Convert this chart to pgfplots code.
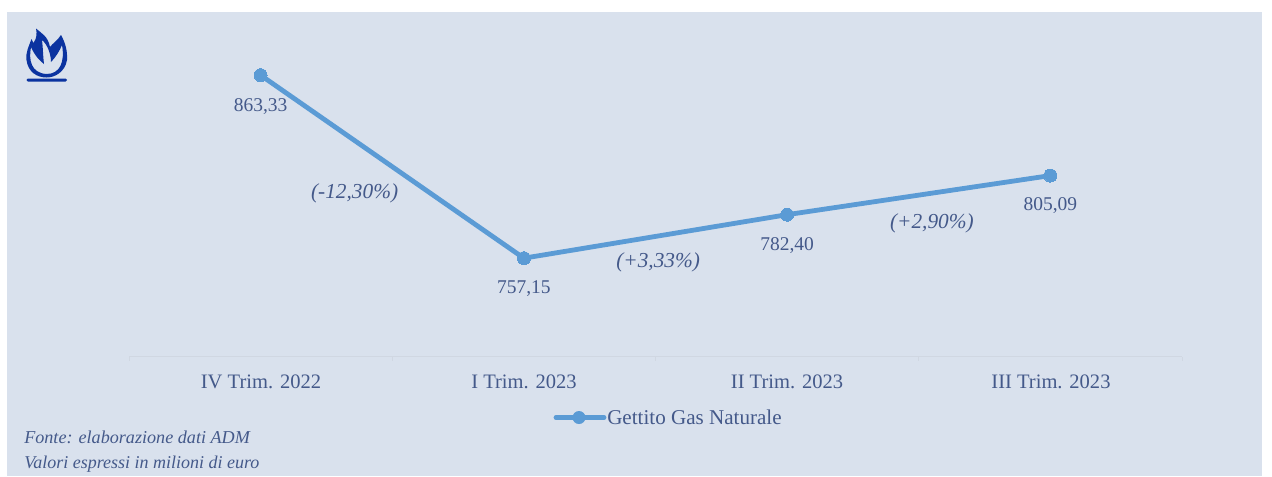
\documentclass[border=0pt]{standalone}
\usepackage{pgfplots}
\pgfplotsset{compat=1.18}
\usepackage{fontspec}
\setmainfont{Liberation Serif}
\definecolor{bgc}{HTML}{D9E1ED}
\definecolor{txt}{HTML}{44598A}
\definecolor{ln}{HTML}{5B9BD5}
\definecolor{ic}{HTML}{0B33A0}
\definecolor{ax}{HTML}{D0D7E2}
\pgfplotstableread{
x y
0 863.33
1 757.15
2 782.40
3 805.09
}\gasdata
\begin{document}
\begin{tikzpicture}[x=0.75pt,y=-0.75pt]
\fill[white] (0,0) rectangle (1272,476);
\fill[bgc] (7,12) rectangle (1262,476);
\begin{axis}[
  at={(96.75pt,-267.5pt)},anchor=south west,
  scale only axis,width=789.75pt,height=258.5pt,
  xmin=-0.5,xmax=3.5,ymin=700,ymax=900,
  axis y line=none,
  axis x line*=bottom,
  axis line style={ax,line width=0.8pt,-},
  xtick={-0.5,0.5,1.5,2.5,3.5},xticklabels={},
  major tick length=3pt,
  tick align=outside,
  tick style={ax,line width=0.6pt},
  clip=false,
]
\addplot[ln,line width=3.6pt,mark=*,mark size=4.9pt,mark options={fill=ln,draw=ln,line width=0pt}] table[x=x,y=y]{\gasdata};
\def\lab#1#2#3{\node[txt,font=\fontsize{14.6}{16}\selectfont] at (axis cs:#1,#2){#3};}
\def\pct#1#2#3{\node[txt,font=\fontsize{16}{18}\selectfont\itshape] at (axis cs:#1,#2){#3};}
\lab{0.0}{845.0}{863,33}
\lab{1.0}{739.5}{757,15}
\lab{2.0}{764.5}{782,40}
\lab{3.0}{787.5}{805,09}
\pct{0.357}{794.9}{(-12,30\%)}
\pct{1.51}{754.5}{(+3,33\%)}
\pct{2.55}{777.5}{(+2,90\%)}
\end{axis}
\begin{scope}[every node/.style={txt,font=\fontsize{15.4}{17}\selectfont}]
\node at (261,381.5){IV Trim. 2022};
\node at (524,381.5){I Trim. 2023};
\node at (787,381.5){II Trim. 2023};
\node at (1051,381.5){III Trim. 2023};
\end{scope}
\node[txt,anchor=west,inner sep=0pt,font=\fontsize{15.8}{17}\selectfont] at (607,417.5){Gettito Gas Naturale};
\draw[ln,line width=3.6pt,line cap=round] (556,417.5)--(604,417.5);
\fill[ln] (579,417.5) circle[radius=6.5];
\node[txt,anchor=west,inner sep=0pt,font=\fontsize{13.6}{15}\selectfont\itshape] at (24,437){Fonte: elaborazione dati ADM};
\node[txt,anchor=west,inner sep=0pt,font=\fontsize{13.5}{15}\selectfont\itshape] at (24,464){Valori espressi in milioni di euro};
% flame icon
\fill[ic,even odd rule] (36,28.5) .. controls (41,33) and (48,36) .. (50,47) .. controls (52,44) and (58,40) .. (61,35) .. controls (66,44) and (67.5,52) .. (67,60) .. controls (65,72) and (55,77.5) .. (46.5,77.5) .. controls (37,77.5) and (28,72) .. (26.5,60) .. controls (25.5,52) and (29,46) .. (31.5,39) -- (33.5,43) .. controls (37,38) and (37,33) .. (36,28.5) -- cycle
(31,47) .. controls (28.5,60) and (31,73) .. (46.5,74) .. controls (60,74) and (65,62) .. (62,45) .. controls (60,50) and (56,57) .. (51,62) .. controls (51,55) and (48,45) .. (42,40) .. controls (43,48) and (43,56) .. (44,64) .. controls (40,61) and (35,56) .. (31,47) -- cycle;
\fill[ic,rounded corners=1pt] (26.5,78.5) rectangle (67,81.5);
\end{tikzpicture}
\end{document}
